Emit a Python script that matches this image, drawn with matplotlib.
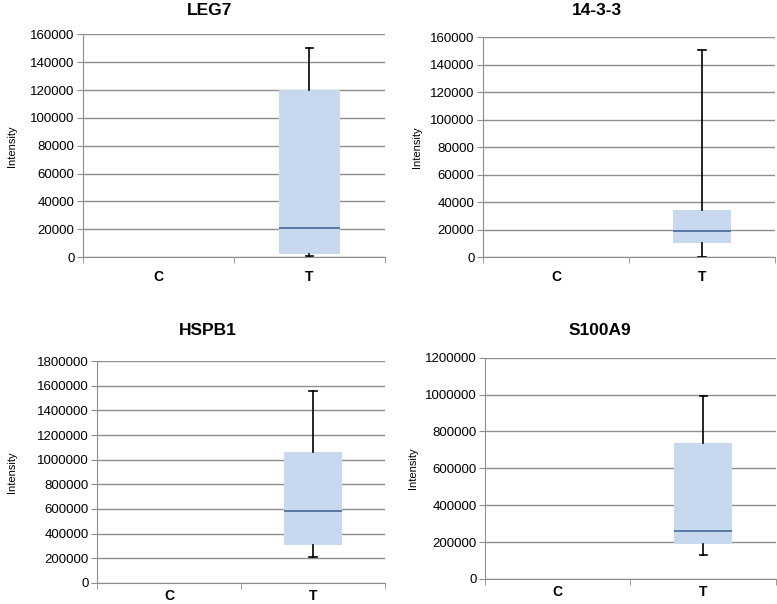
import matplotlib
matplotlib.use("Agg")
import matplotlib.pyplot as plt
from matplotlib.ticker import MultipleLocator, FixedLocator

plt.rcParams["font.family"] = ["Liberation Sans", "DejaVu Sans"]

categories = ["C", "T"]
titles = ["LEG7", "14-3-3", "HSPB1", "S100A9"]

# five-number summaries of the T group (C group has no box)
whisker_low = [500, 0, 210000, 130000]
box_low = [2000, 10000, 310000, 190000]
medians = [21000, 19000, 585000, 258000]
box_high = [120000, 34000, 1065000, 735000]
whisker_high = [150000, 151000, 1560000, 990000]

y_max = [160000, 160000, 1800000, 1200000]
y_step = [20000, 20000, 200000, 200000]

# axes rectangles in figure fraction (left, bottom, width, height)
axes_rects = [
    (0.1068, 0.5745, 0.3887, 0.3684),
    (0.6216, 0.5745, 0.3758, 0.3637),
    (0.1248, 0.0348, 0.3707, 0.3675),
    (0.6242, 0.0414, 0.3745, 0.3664),
]
title_pos = [(0.270, 0.982), (0.768, 0.982), (0.267, 0.453), (0.772, 0.452)]
ylabel_x = [0.009, 0.530, 0.009, 0.525]
xlabel_pad = [9, 9, 4, 4]

grid_color = "#8e8e8e"
box_color = "#c8d9ef"
median_color = "#46679a"

fig = plt.figure(figsize=(7.77, 6.04), dpi=100)

for i in range(4):
    ax = fig.add_axes(axes_rects[i])
    stats = [{
        "whislo": whisker_low[i],
        "q1": box_low[i],
        "med": medians[i],
        "q3": box_high[i],
        "whishi": whisker_high[i],
        "label": categories[1],
    }]
    ax.bxp(
        stats,
        positions=[1],
        widths=0.4,
        capwidths=0.05,
        showfliers=False,
        patch_artist=True,
        boxprops=dict(facecolor=box_color, edgecolor="none", linewidth=0),
        medianprops=dict(color=median_color, linewidth=1.2),
        whiskerprops=dict(color="black", linewidth=1.2),
        capprops=dict(color="black", linewidth=1.2),
        zorder=3,
    )

    ax.set_xlim(-0.5, 1.5)
    ax.set_ylim(0, y_max[i])
    ax.yaxis.set_major_locator(MultipleLocator(y_step[i]))
    ax.yaxis.set_major_formatter(plt.FuncFormatter(lambda v, p: f"{int(v)}"))
    ax.grid(axis="y", color=grid_color, linewidth=1.0, zorder=0)
    ax.set_axisbelow(True)

    ax.set_xticks([0, 1])
    ax.set_xticklabels(categories, fontweight="bold", fontsize=10)
    ax.xaxis.set_minor_locator(FixedLocator([-0.5, 0.5, 1.5]))
    ax.tick_params(axis="x", which="major", length=0, pad=xlabel_pad[i])
    ax.tick_params(axis="x", which="minor", length=4, color=grid_color, direction="out")
    ax.tick_params(axis="y", length=4, color=grid_color, labelsize=9.5, pad=2)

    for side in ("top", "right"):
        ax.spines[side].set_visible(False)
    ax.spines["left"].set_color(grid_color)
    ax.spines["bottom"].set_color(grid_color)

    bb = axes_rects[i]
    fig.text(ylabel_x[i], bb[1] + bb[3] * 0.5, "Intensity", rotation=90,
             ha="left", va="center", fontsize=8)
    fig.text(title_pos[i][0], title_pos[i][1], titles[i], ha="center",
             va="center", fontsize=12.5, fontweight="bold")

fig.savefig("out.png", dpi=100)
